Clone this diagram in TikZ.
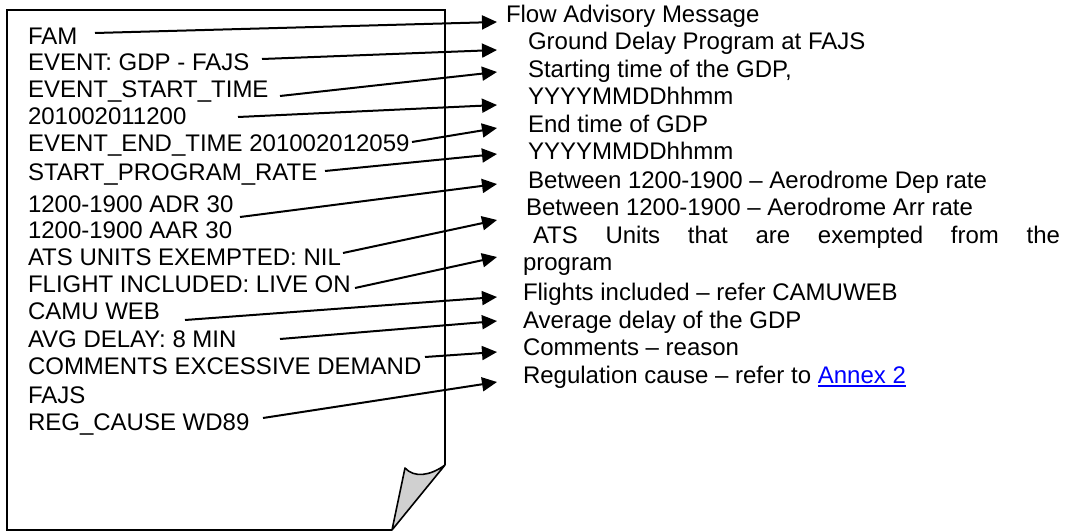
\documentclass[tikz,border=0pt]{standalone}
\usepackage{fontspec}
\setmainfont{Liberation Sans}
\usetikzlibrary{arrows.meta}
\definecolor{linkblue}{RGB}{0,0,255}
\definecolor{flapgray}{RGB}{208,208,208}
\newcommand\ulink[1]{\textcolor{linkblue}{\setbox0\hbox{#1}\rlap{\rule[-3.6pt]{\wd0}{1.6pt}}\box0}}
\begin{document}
\begin{tikzpicture}[x=1pt,y=-1pt,
  txt/.style={anchor=base west,inner sep=0pt,outer sep=0pt,font=\fontsize{24}{28}\selectfont},
  pageline/.style={line width=1.6pt,line join=miter},
  conn/.style={line width=2pt,-{Triangle[length=15pt,width=14pt]}}]
\useasboundingbox (0,0) rectangle (1074,532);
% page
\draw[pageline] (392,530) -- (7,530) -- (7,10) -- (445,10) -- (445,465);
\draw[pageline,fill=flapgray,line join=round] (392,530) -- (405,468)
   .. controls (414,478) and (430,476) .. (445,465) -- cycle;
% left text
\node[txt] (l1)  at (28,45)  {FAM};
\node[txt] (l2)  at (28,71)  {EVENT: GDP - FAJS};
\node[txt] (l3)  at (28,98)  {EVENT\_START\_TIME};
\node[txt] (l4)  at (28,125) {201002011200};
\node[txt] (l5)  at (28,152) {EVENT\_END\_TIME 201002012059};
\node[txt] (l6)  at (28,180) {START\_PROGRAM\_RATE};
\node[txt] (l7)  at (28,212) {1200-1900 ADR 30};
\node[txt] (l8)  at (28,238) {1200-1900 AAR 30};
\node[txt] (l9)  at (28,265) {ATS UNITS EXEMPTED: NIL};
\node[txt] (l10) at (28,292) {FLIGHT INCLUDED: LIVE ON};
\node[txt] (l11) at (28,319) {CAMU WEB};
\node[txt] (l12) at (28,347) {AVG DELAY: 8 MIN};
\node[txt] (l13) at (28,374) {COMMENTS EXCESSIVE DEMAND};
\node[txt] (l14) at (28,403) {FAJS};
\node[txt] (l15) at (28,430) {REG\_CAUSE WD89};
% right text
\node[txt] (r1)  at (506,23)  {Flow Advisory Message};
\node[txt] (r2)  at (528,50)  {Ground Delay Program at FAJS};
\node[txt] (r3)  at (528,78)  {Starting time of the GDP,};
\node[txt] (r4)  at (528,105) {YYYYMMDDhhmm};
\node[txt] (r5)  at (528,133) {End time of GDP};
\node[txt] (r6)  at (528,160) {YYYYMMDDhhmm};
\node[txt] (r7)  at (528,189) {Between 1200-1900 -- Aerodrome Dep rate};
\node[txt] (r8)  at (526,215) {Between 1200-1900 -- Aerodrome Arr rate};
\node[txt] (r9)  at (533,243) {\hbox to 527pt{ATS\hfill Units\hfill that\hfill are\hfill exempted\hfill from\hfill the}};
\node[txt] (r10) at (523,270) {program};
\node[txt] (r11) at (523,300) {Flights included -- refer CAMUWEB};
\node[txt] (r12) at (523,328) {Average delay of the GDP};
\node[txt] (r13) at (523,355) {Comments -- reason};
\node[txt] (r14) at (523,383) {Regulation cause -- refer to \ulink{Annex 2}};
% connector ends
\coordinate (s1)  at (95,33);   \coordinate (t1)  at (497,22);
\coordinate (s2)  at (262,59);  \coordinate (t2)  at (497,50);
\coordinate (s3)  at (280,96);  \coordinate (t3)  at (497,72);
\coordinate (s4)  at (238,117); \coordinate (t4)  at (497,105);
\coordinate (s5)  at (412,142); \coordinate (t5)  at (497,128);
\coordinate (s6)  at (325,171); \coordinate (t6)  at (497,154);
\coordinate (s7)  at (240,217); \coordinate (t7)  at (497,184);
\coordinate (s8)  at (343,253); \coordinate (t8)  at (497,220);
\coordinate (s9)  at (355,288); \coordinate (t9)  at (497,257);
\coordinate (s10) at (185,320); \coordinate (t10) at (497,297);
\coordinate (s11) at (280,339); \coordinate (t11) at (497,321);
\coordinate (s12) at (425,357); \coordinate (t12) at (497,352);
\coordinate (s13) at (263,418); \coordinate (t13) at (497,382);
\foreach \i in {1,...,13} {\draw[conn] (s\i) -- (t\i);}
\end{tikzpicture}
\end{document}
